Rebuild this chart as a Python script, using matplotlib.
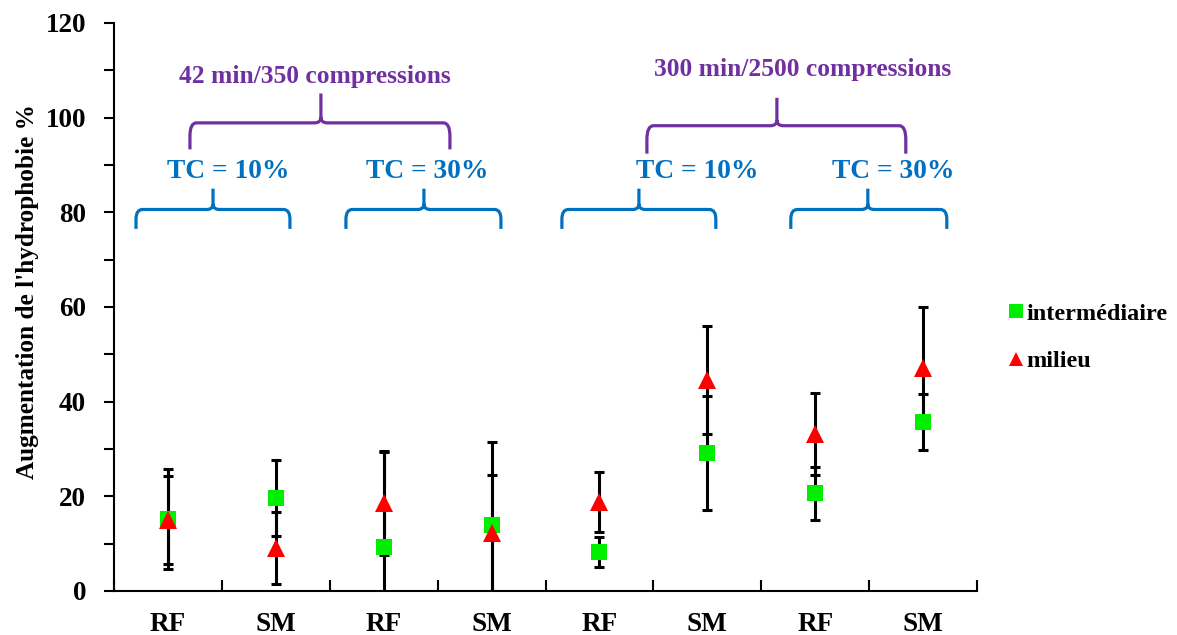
import matplotlib
matplotlib.use("Agg")
import matplotlib.pyplot as plt
from matplotlib.path import Path
from matplotlib.patches import PathPatch

# ---- data ----
categories = ["RF", "SM", "RF", "SM", "RF", "SM", "RF", "SM"]
intermediaire = [15.2, 19.7, 9.2, 14.0, 8.2, 29.1, 20.6, 35.7]
intermediaire_err = [10.6, 8.0, 20.3, 17.4, 3.2, 12.0, 5.5, 6.0]
milieu = [15.0, 9.0, 18.5, 12.3, 18.8, 44.5, 33.2, 47.2]
milieu_err = [9.4, 7.6, 10.9, 12.2, 6.4, 11.4, 8.7, 12.8]
series_labels = ["intermédiaire", "milieu"]
group_labels_top = ["42 min/350 compressions", "300 min/2500 compressions"]
group_labels_tc = ["TC = 10%", "TC = 30%", "TC = 10%", "TC = 30%"]
ylabel = "Augmentation de l'hydrophobie %"

FONT = "Liberation Serif"
GREEN = "#00EE00"
RED = "#FF0000"
BLUE = "#0070C0"
PURPLE = "#7030A0"

fig = plt.figure(figsize=(11.77, 6.35), dpi=100)
ax = fig.add_axes([114 / 1177, 44 / 635, (977 - 114) / 1177, (591 - 23) / 635])

x = [i + 0.5 for i in range(len(categories))]

ax.errorbar(x, intermediaire, yerr=intermediaire_err, fmt="none", ecolor="black",
            elinewidth=2.2, capsize=3.3, capthick=2.2, zorder=2)
ax.errorbar(x, milieu, yerr=milieu_err, fmt="none", ecolor="black",
            elinewidth=2.2, capsize=3.3, capthick=2.2, zorder=2)
ax.plot(x, intermediaire, linestyle="none", marker="s", markersize=11.5,
        color=GREEN, markeredgewidth=0, label=series_labels[0], zorder=3)
ax.plot(x, milieu, linestyle="none", marker="^", markersize=13.5,
        color=RED, markeredgewidth=0, label=series_labels[1], zorder=4)

ax.set_xlim(0, len(categories))
ax.set_ylim(0, 120)

for s in ["top", "right"]:
    ax.spines[s].set_visible(False)
for s in ["left", "bottom"]:
    ax.spines[s].set_linewidth(1.5)

ax.set_yticks(range(0, 121, 20))
ax.set_yticks(range(10, 120, 20), minor=True)
ax.tick_params(axis="y", which="both", direction="out", length=7, width=1.5,
               labelsize=19.5, pad=13)
ax.set_xticks(range(0, len(categories) + 1))
ax.set_xticklabels([])
ax.set_xticks(x, minor=True)
ax.set_xticklabels(categories, minor=True)
ax.tick_params(axis="x", which="major", direction="in", length=8, width=1.5)
ax.tick_params(axis="x", which="minor", length=0, labelsize=19.5, pad=15)
for lab in ax.get_xticklabels(minor=True) + ax.get_yticklabels():
    lab.set_fontfamily(FONT)
    lab.set_fontweight("bold")

fig.text(28 / 1177, 1 - 292 / 635, ylabel, rotation=90, ha="center", va="center",
         fontsize=18.2, fontweight="bold", family=FONT)


def brace(x0, x1, xt, ybar, yend, ytip, color):
    rx = 0.06
    ry = (ybar - yend) * 0.5
    tx = 0.06
    ty = 1.2
    verts = [
        (x0, yend), (x0, ybar - ry),
        (x0, ybar), (x0 + rx, ybar),
        (xt - tx, ybar),
        (xt, ybar), (xt, ybar + ty),
        (xt, ytip),
        (xt, ybar + ty),
        (xt, ybar), (xt + tx, ybar),
        (x1 - rx, ybar),
        (x1, ybar), (x1, ybar - ry),
        (x1, yend),
    ]
    codes = [Path.MOVETO, Path.LINETO,
             Path.CURVE3, Path.CURVE3,
             Path.LINETO,
             Path.CURVE3, Path.CURVE3,
             Path.LINETO,
             Path.MOVETO,
             Path.CURVE3, Path.CURVE3,
             Path.LINETO,
             Path.CURVE3, Path.CURVE3,
             Path.LINETO]
    p = PathPatch(Path(verts, codes), facecolor="none", edgecolor=color,
                  linewidth=2.3, clip_on=False, capstyle="butt", joinstyle="round")
    ax.add_patch(p)


# blue braces (TC)
blue_spans = [(0.204, 1.631, 0.918), (2.150, 3.587, 2.873),
              (4.152, 5.579, 4.866), (6.274, 7.720, 6.988)]
for (a, b, t) in blue_spans:
    brace(a, b, t, 80.6, 76.5, 85.0, BLUE)
tc_x = [1.057, 2.90, 5.403, 7.22]
for xi, lab in zip(tc_x, group_labels_tc):
    ax.text(xi, 88.7, lab, ha="center", va="center", color=BLUE, fontsize=19.8,
            fontweight="bold", family=FONT)

# purple braces (duration)
brace(0.704, 3.114, 1.918, 98.9, 93.3, 105.1, PURPLE)
brace(4.940, 7.340, 6.145, 98.3, 92.4, 104.2, PURPLE)
ax.text(1.863, 108.7, group_labels_top[0], ha="center", va="center", color=PURPLE,
        fontsize=18.4, fontweight="bold", family=FONT)
ax.text(6.386, 110.2, group_labels_top[1], ha="center", va="center", color=PURPLE,
        fontsize=18.4, fontweight="bold", family=FONT)

leg = ax.legend(loc="upper left", bbox_to_anchor=(1000 / 1177, 1 - 293 / 635),
                bbox_transform=fig.transFigure, frameon=False, handlelength=0.5,
                handletextpad=0.2, labelspacing=1.05, borderaxespad=0,
                prop={"family": FONT, "weight": "bold", "size": 17.5})
for h in leg.legend_handles:
    h.set_markersize(10)

fig.savefig("out.png", dpi=100)
